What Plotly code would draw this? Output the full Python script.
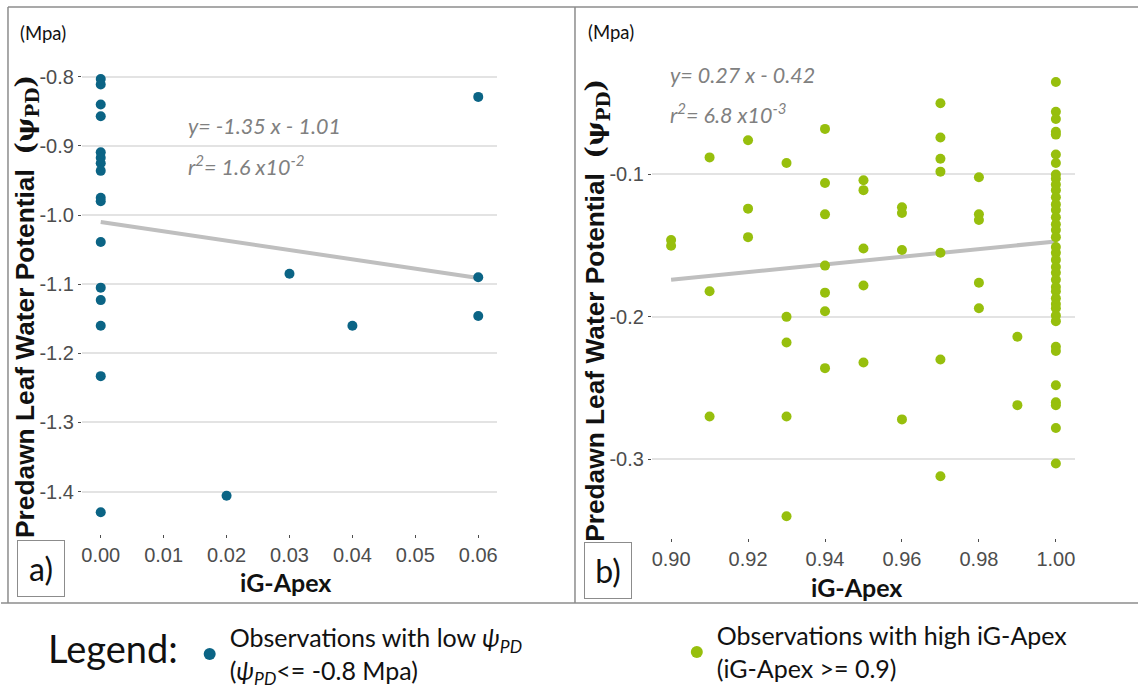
import plotly.graph_objects as go

W, H = 1139, 693

# ---------------- data ----------------
# Panel a: observations with low psi_PD
a_x = [0.00, 0.00, 0.00, 0.00, 0.00, 0.00, 0.00, 0.00, 0.00, 0.00, 0.00,
       0.00, 0.00, 0.00, 0.00, 0.00, 0.02, 0.03, 0.04, 0.06, 0.06, 0.06]
a_y = [-0.803, -0.811, -0.840, -0.857, -0.909, -0.917, -0.925, -0.936, -0.975,
       -0.980, -1.039, -1.105, -1.123, -1.160, -1.233, -1.430, -1.406, -1.085,
       -1.160, -0.829, -1.090, -1.146]
a_fit = [-1.35, -1.01]          # slope, intercept

# Panel b: observations with high iG-Apex
b_cols = {
    0.90: [-0.146, -0.150],
    0.91: [-0.088, -0.182, -0.270],
    0.92: [-0.076, -0.124, -0.144],
    0.93: [-0.092, -0.200, -0.218, -0.270, -0.340],
    0.94: [-0.068, -0.106, -0.128, -0.164, -0.183, -0.196, -0.236],
    0.95: [-0.104, -0.111, -0.152, -0.178, -0.232],
    0.96: [-0.123, -0.127, -0.153, -0.272],
    0.97: [-0.050, -0.074, -0.089, -0.098, -0.155, -0.230, -0.312],
    0.98: [-0.102, -0.128, -0.132, -0.176, -0.194],
    0.99: [-0.214, -0.262],
    1.00: [-0.035, -0.056, -0.061, -0.070, -0.072, -0.086, -0.092, -0.100,
           -0.103, -0.107, -0.111, -0.116, -0.121, -0.125, -0.130, -0.135,
           -0.139, -0.144, -0.151, -0.155, -0.160, -0.165, -0.169, -0.174,
           -0.179, -0.182, -0.187, -0.191, -0.194, -0.199, -0.203, -0.221,
           -0.224, -0.248, -0.260, -0.262, -0.278, -0.303],
}
b_fit = [0.27, -0.417]          # slope, intercept

a_xticks = [0.00, 0.01, 0.02, 0.03, 0.04, 0.05, 0.06]
a_xticktext = ["0.00", "0.01", "0.02", "0.03", "0.04", "0.05", "0.06"]
a_yticks = [-0.8, -0.9, -1.0, -1.1, -1.2, -1.3, -1.4]
a_yticktext = ["-0.8", "-0.9", "-1.0", "-1.1", "-1.2", "-1.3", "-1.4"]
b_xticks = [0.90, 0.92, 0.94, 0.96, 0.98, 1.00]
b_xticktext = ["0.90", "0.92", "0.94", "0.96", "0.98", "1.00"]
b_yticks = [-0.1, -0.2, -0.3]
b_yticktext = ["-0.1", "-0.2", "-0.3"]

b_x = [x for x, ys in b_cols.items() for _ in ys]
b_y = [y for ys in b_cols.values() for y in ys]

BLUE = "#0B6485"
GREEN = "#97BF0D"
LINE = "#BFBFBF"
FRAME = "#8C8C8C"
TICK = "#4D4D4D"
EQ = "#808080"


def px(x):
    return x / W


def py(y):
    return 1 - y / H


def padded(vals, f=0.05):
    lo, hi = min(vals), max(vals)
    s = hi - lo
    return [lo - f * s, hi + f * s]


fig = go.Figure()

# regression lines
ax0, ax1 = min(a_x), max(a_x)
fig.add_trace(go.Scatter(x=[ax0, ax1], y=[a_fit[0] * ax0 + a_fit[1], a_fit[0] * ax1 + a_fit[1]],
                         mode="lines", line=dict(color=LINE, width=4), showlegend=False,
                         xaxis="x", yaxis="y", hoverinfo="skip"))
bx0, bx1 = min(b_x), max(b_x)
fig.add_trace(go.Scatter(x=[bx0, bx1], y=[b_fit[0] * bx0 + b_fit[1], b_fit[0] * bx1 + b_fit[1]],
                         mode="lines", line=dict(color=LINE, width=4), showlegend=False,
                         xaxis="x2", yaxis="y2", hoverinfo="skip"))

fig.add_trace(go.Scatter(
    x=a_x, y=a_y, mode="markers", xaxis="x", yaxis="y", legend="legend",
    marker=dict(color=BLUE, size=10),
    name="Observations with low <i>ψ<sub>PD</sub></i><br>(<i>ψ<sub>PD</sub></i>&lt;= -0.8 Mpa)"))
fig.add_trace(go.Scatter(
    x=b_x, y=b_y, mode="markers", xaxis="x2", yaxis="y2", legend="legend2",
    marker=dict(color=GREEN, size=10),
    name="Observations with high iG-Apex<br>(iG-Apex &gt;= 0.9)"))

axis_common = dict(zeroline=False, showline=False, ticks="outside",
                   ticklen=3, tickwidth=1, tickcolor=TICK,
                   tickfont=dict(family="Liberation Sans", size=20, color=TICK))
xgrid = dict(showgrid=False)
ygrid = dict(showgrid=True, gridcolor="#E3E3E3", gridwidth=1.5)

leg_common = dict(orientation="v", xanchor="left", yanchor="top", valign="middle",
                  font=dict(family="Lato", size=25, color="#111111"),
                  itemclick=False, itemsizing="constant",
                  bgcolor="rgba(0,0,0,0)", borderwidth=0)

fig.update_layout(
    width=W, height=H, margin=dict(l=0, r=0, t=0, b=0),
    paper_bgcolor="white", plot_bgcolor="white",
    xaxis=dict(domain=[px(81), px(497)], range=padded(a_x), anchor="y",
               tickvals=a_xticks, ticktext=a_xticktext, **axis_common, **xgrid),
    yaxis=dict(domain=[py(541), py(58)], range=padded(a_y), anchor="x",
               tickvals=a_yticks, ticktext=a_yticktext, **axis_common, **ygrid),
    xaxis2=dict(domain=[px(652), px(1076)], range=padded(b_x), anchor="y2",
                tickvals=b_xticks, ticktext=b_xticktext, **axis_common, **xgrid),
    yaxis2=dict(domain=[py(545), py(61)], range=padded(b_y), anchor="x2",
                tickvals=b_yticks, ticktext=b_yticktext, **axis_common, **ygrid),
    showlegend=True,
    legend=dict(x=px(189), y=py(623), **leg_common),
    legend2=dict(x=px(677), y=py(621), **leg_common),
)

ann = []
ytitle = ("<b>Predawn Leaf Water Potential  "
          "<span style='font-family:DejaVu Serif'>(ψ<sub>PD</sub>)</span></b>")
for cx, cy in [(26, 310), (597, 314)]:
    ann.append(dict(x=px(cx), y=py(cy), xref="paper", yref="paper", text=ytitle,
                    textangle=-90, showarrow=False, xanchor="center", yanchor="middle",
                    font=dict(family="Liberation Sans", size=26.3, color="#111111")))
for cx, cy in [(285, 590), (857, 595)]:
    ann.append(dict(x=px(cx), y=py(cy), xref="paper", yref="paper", text="<b>iG-Apex</b>",
                    showarrow=False, xanchor="center", yanchor="middle",
                    font=dict(family="Lato", size=25, color="#111111")))
for cx, cy in [(42, 33), (611, 32)]:
    ann.append(dict(x=px(cx), y=py(cy), xref="paper", yref="paper", text="(Mpa)",
                    showarrow=False, xanchor="center", yanchor="middle",
                    font=dict(family="Lato", size=18.5, color="#111111")))
eqs = [(185, 128, "<i>y= -1.35 x - 1.01</i>"),
       (185, 168, "<i>r<sup>2</sup>= 1.6 x10<sup>-2</sup></i>"),
       (668, 76, "<i>y= 0.27 x - 0.42</i>"),
       (668, 115, "<i>r<sup>2</sup>= 6.8 x10<sup>-3</sup></i>")]
for lx, cy, t in eqs:
    ann.append(dict(x=px(lx), y=py(cy), xref="paper", yref="paper", text=t,
                    showarrow=False, xanchor="left", yanchor="middle",
                    font=dict(family="Lato", size=21.5, color=EQ)))
for cx, cy, t in [(40.5, 576, "a)"), (608, 578, "b)")]:
    ann.append(dict(x=px(cx), y=py(cy), xref="paper", yref="paper", text=t,
                    showarrow=False, xanchor="center", yanchor="middle",
                    width=44, height=53, bordercolor=FRAME, borderwidth=1,
                    bgcolor="white",
                    font=dict(family="Lato", size=32, color="#111111")))
ann.append(dict(x=px(45), y=py(657), xref="paper", yref="paper", text="Legend:",
                showarrow=False, xanchor="left", yanchor="middle",
                font=dict(family="Lato", size=38, color="#111111")))
fig.update_layout(annotations=ann)

shapes = []
lw = dict(color=FRAME, width=1.5)
shapes.append(dict(type="line", xref="paper", yref="paper", x0=px(7), x1=1, y0=py(7), y1=py(7), line=lw))
shapes.append(dict(type="line", xref="paper", yref="paper", x0=0, x1=1, y0=py(611), y1=py(611), line=lw))
shapes.append(dict(type="line", xref="paper", yref="paper", x0=px(7), x1=px(7), y0=py(7), y1=py(611), line=lw))
shapes.append(dict(type="line", xref="paper", yref="paper", x0=px(575), x1=px(575), y0=py(7), y1=py(611), line=lw))
fig.update_layout(shapes=shapes)

fig.write_html("out.html", config={"displayModeBar": False},
               post_script="document.body.style.margin='0';")
